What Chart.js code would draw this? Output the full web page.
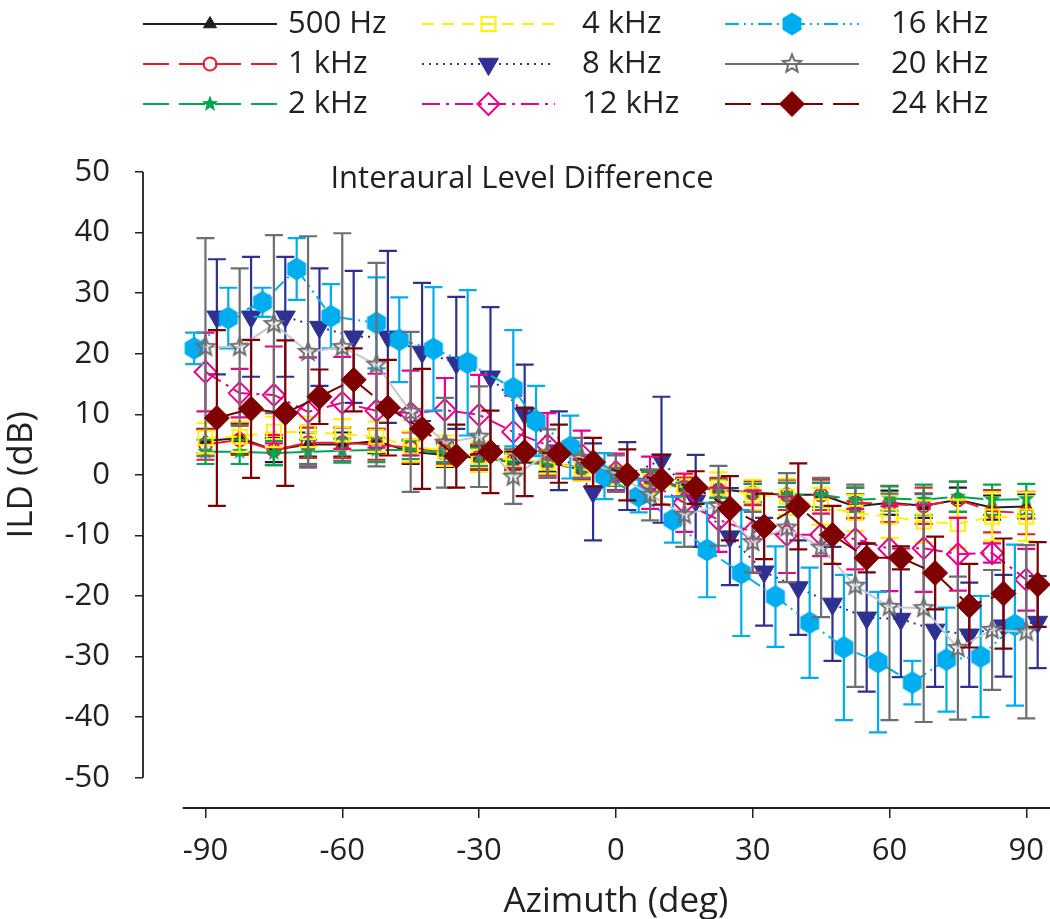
<!DOCTYPE html>
<html>
<head>
<meta charset="utf-8">
<title>Interaural Level Difference</title>
<script src="https://cdn.jsdelivr.net/npm/chart.js@4.4.1/dist/chart.umd.min.js"></script>
<style>
  body { margin: 0; background: #fff; }
  canvas { display: block; }
</style>
</head>
<body>
<canvas id="ildChart" width="1050" height="919"></canvas>
<script>
// ILD vs azimuth, one series per frequency band, mean +/- sd

// azimuths (deg) - some bands are drawn slightly offset so the error bars do not overlap
const azimuthBase = [-90, -82.5, -75, -67.5, -60, -52.5, -45, -37.5, -30, -22.5, -15, -7.5, 0, 7.5, 15, 22.5, 30, 37.5, 45, 52.5, 60, 67.5, 75, 82.5, 90];
const azimuthPlus = [-87.5, -80, -72.5, -65, -57.5, -50, -42.5, -35, -27.5, -20, -12.5, -5, 2.5, 10, 17.5, 25, 32.5, 40, 47.5, 55, 62.5, 70, 77.5, 85, 92.5];
const azimuth16k = [-92.5, -85, -77.5, -70, -62.5, -52.5, -47.5, -40, -32.5, -22.5, -17.5, -10, -2.5, 5, 12.5, 20, 27.5, 35, 42.5, 50, 57.5, 65, 72.5, 80, 87.5];

// mean ILD (dB)
const ild500 = [5.6, 6.1, 4.1, 5.0, 5.0, 5.6, 3.8, 3.3, 2.8, 2.3, 2.0, 1.0, -0.3, -0.8, -2.0, -2.3, -3.0, -3.3, -3.3, -5.2, -4.6, -5.1, -4.1, -5.4, -5.2];
const ild1k = [5.0, 5.8, 4.1, 5.3, 5.3, 5.0, 4.5, 3.8, 3.0, 2.3, 2.0, 1.2, -0.2, -0.8, -2.0, -2.5, -3.0, -3.3, -3.3, -4.6, -4.8, -5.1, -4.1, -6.0, -6.3];
const ild2k = [3.8, 3.8, 3.6, 3.8, 4.0, 4.1, 4.1, 3.6, 3.0, 2.0, 1.8, 1.0, -0.3, -1.0, -2.2, -2.3, -3.0, -3.3, -3.3, -4.1, -3.9, -4.1, -3.6, -4.1, -4.0];
const ild4k = [6.1, 6.3, 7.1, 7.1, 6.7, 6.3, 4.7, 4.0, 3.0, 2.5, 2.2, 1.0, -0.5, -1.9, -1.9, -2.1, -3.3, -3.6, -5.2, -6.3, -6.9, -7.7, -8.1, -6.9, -6.9];
const ild8k = [26.1, 26.1, 26.1, 24.4, 22.8, 22.8, 20.3, 18.5, 16.2, 10.1, 4.0, -2.8, -0.2, 2.5, -4.3, -10.2, -16.0, -18.6, -21.3, -23.6, -23.8, -25.6, -26.4, -24.9, -24.3];
const ild12k = [17.0, 13.5, 13.2, 10.4, 11.9, 10.6, 10.2, 10.7, 9.9, 7.1, 4.9, 3.3, 0.5, -1.3, -4.6, -7.4, -9.4, -9.9, -9.9, -10.6, -12.2, -12.1, -13.1, -12.9, -17.3];
const ild16k = [20.9, 25.9, 28.5, 34.0, 26.2, 25.1, 22.3, 20.8, 18.5, 14.3, 8.9, 4.6, -0.2, -3.5, -7.4, -12.4, -16.2, -20.1, -24.4, -28.5, -30.9, -34.3, -30.5, -30.0, -24.8];
const ild20k = [21.1, 21.1, 24.9, 20.3, 21.1, 18.2, 10.4, 5.3, 6.3, -0.3, 3.5, 2.8, 0.2, -3.3, -6.6, -5.1, -11.1, -8.7, -12.0, -18.3, -21.8, -22.0, -28.6, -25.6, -25.9];
const ild24k = [9.4, 10.9, 10.2, 12.9, 15.7, 11.1, 7.6, 3.1, 3.8, 3.8, 3.5, 2.1, 0.0, -0.8, -2.1, -5.5, -8.5, -5.2, -9.9, -13.7, -13.7, -16.2, -21.6, -19.6, -18.1];

// standard deviation (dB)
const err500 = [2, 2.5, 2, 2, 2, 2, 2, 2, 2, 1.5, 1.5, 1.5, 1.5, 1.5, 1.5, 1.5, 1.5, 2, 2, 2, 2, 2, 2, 2, 2];
const err1k = [2.5, 2.5, 2.5, 2.5, 2.5, 2.5, 2.5, 2, 2, 2, 2, 2, 1.5, 1.5, 1.5, 2, 2, 2.5, 2.5, 2.5, 3, 3, 3, 3.5, 3.5];
const err2k = [2, 2, 2, 2, 2, 2, 1.5, 1.5, 1.5, 1.5, 1.5, 1.5, 1.5, 1.5, 1.5, 1.5, 1.5, 2, 2, 2, 2, 2.5, 2.5, 2.5, 2.5];
const err4k = [2.5, 2.5, 2.5, 2.5, 2.5, 2.5, 2.5, 2.5, 2.5, 2, 2, 2, 2, 2, 2, 2.5, 2.5, 3, 3, 3, 3.5, 3.5, 4, 4, 4];
const err8k = [9.5, 9.9, 9.9, 9.7, 10.9, 14.2, 11.4, 10.9, 11.5, 8.1, 6.5, 8, 5.6, 10.4, 7.6, 8, 8.9, 7.8, 9.4, 12.2, 9.6, 9.4, 8.6, 8.4, 7.6];
const err12k = [6.5, 4, 8, 9, 7.6, 6.1, 7, 5.3, 6.6, 6, 5.3, 4, 3, 4.3, 4.8, 5.3, 6.8, 6.3, 3.5, 5, 7, 7.2, 6, 1.6, 5.1];
const err16k = [2.6, 5, 2.4, 5.1, 5.3, 7.5, 7, 10.2, 12, 9.6, 5.8, 5.2, 3.8, 2.7, 3.8, 7.8, 10.4, 8.3, 9.1, 12, 11.6, 3.6, 8.6, 10, 13.3];
const err20k = [18, 13, 14.7, 19.1, 18.8, 16.8, 13.2, 7.4, 8.3, 4.5, 4, 3.3, 3, 4.2, 5.3, 6.6, 5, 9, 11.5, 16.7, 18.7, 18.8, 11.8, 9.9, 14.3];
const err24k = [14.5, 11.4, 12, 4.5, 5.2, 7.9, 9.9, 5.2, 6.8, 7.3, 4.8, 4, 4.2, 4.1, 2.7, 5.3, 5.4, 7.1, 4.8, 2.4, 1.9, 6, 6.9, 9.1, 7];

// axis ticks
const xTicks = [-90, -60, -30, 0, 30, 60, 90];
const yTicks = [-50, -40, -30, -20, -10, 0, 10, 20, 30, 40, 50];

const FONT = '"Open Sans", "DejaVu Sans", sans-serif';
const INK = '#231f20';

// marker images that Chart.js has no built-in style for
function polygonMarker(size, points, fill, stroke, lw) {
    const c = document.createElement('canvas');
    c.width = c.height = size;
    const g = c.getContext('2d');
    g.beginPath();
    points.forEach((p, k) => k ? g.lineTo(size / 2 + p[0], size / 2 + p[1]) : g.moveTo(size / 2 + p[0], size / 2 + p[1]));
    g.closePath();
    if (fill) { g.fillStyle = fill; g.fill(); }
    if (stroke) { g.strokeStyle = stroke; g.lineWidth = lw; g.stroke(); }
    return c;
}
function starPoints(outer, inner) {
    const pts = [];
    for (let k = 0; k < 10; k++) {
        const r = k % 2 ? inner : outer;
        const a = -Math.PI / 2 + k * Math.PI / 5;
        pts.push([r * Math.cos(a), r * Math.sin(a)]);
    }
    return pts;
}
function hexPoints(r) {
    const pts = [];
    for (let k = 0; k < 6; k++) {
        const a = -Math.PI / 2 + k * Math.PI / 3;
        pts.push([r * Math.cos(a) * 0.95, r * Math.sin(a)]);
    }
    return pts;
}
const greenStar = polygonMarker(20, starPoints(8.5, 3.6), '#00a651', null, 0);
const grayStar = polygonMarker(24, starPoints(9.5, 4.2), null, '#6d6e71', 2);
const blueHex = polygonMarker(26, hexPoints(11.5), '#00aeef', null, 0);

const series = [
    { label: '500 Hz', x: azimuthBase, y: ild500, err: err500, color: INK, line: INK, dash: [], style: 'triangle', radius: 7.5, fill: true },
    { label: '1 kHz', x: azimuthBase, y: ild1k, err: err1k, color: '#ed1c24', line: '#ed1c24', dash: [26, 10], style: 'circle', radius: 6.5, fill: false },
    { label: '2 kHz', x: azimuthBase, y: ild2k, err: err2k, color: '#00a651', line: '#00a651', dash: [26, 10], style: greenStar, radius: 8, fill: true },
    { label: '4 kHz', x: azimuthBase, y: ild4k, err: err4k, color: '#fff200', line: '#fff200', dash: [12, 8], style: 'rect', radius: 10, fill: false },
    { label: '8 kHz', x: azimuthPlus, y: ild8k, err: err8k, color: '#2e3192', line: '#2e3192', dash: [2, 5], style: 'triangle', rotation: 180, radius: 11.5, fill: true },
    { label: '12 kHz', x: azimuthBase, y: ild12k, err: err12k, color: '#ec008c', line: '#ec008c', dash: [18, 6, 3, 6], style: 'rectRot', radius: 11, fill: false },
    { label: '16 kHz', x: azimuth16k, y: ild16k, err: err16k, color: '#00aeef', line: '#00aeef', dash: [14, 5, 2, 5, 2, 5], style: blueHex, radius: 11, fill: true },
    { label: '20 kHz', x: azimuthBase, y: ild20k, err: err20k, color: '#6d6e71', line: '#c7c8ca', legendLine: '#6d6e71', dash: [], style: grayStar, radius: 9, fill: false },
    { label: '24 kHz', x: azimuthPlus, y: ild24k, err: err24k, color: '#7f0000', line: '#7f0000', dash: [26, 10], style: 'rectRot', radius: 12.5, fill: true }
];

const datasets = series.map((s, i) => ({
    label: s.label,
    data: s.x.map((az, k) => ({ x: az, y: s.y[k] })),
    errors: s.err,
    errColor: s.color,
    showLine: true,
    tension: 0,
    borderColor: s.line,
    borderWidth: 2,
    borderDash: s.dash,
    backgroundColor: s.fill ? s.color : 'rgba(0,0,0,0)',
    pointStyle: s.style,
    pointRotation: s.rotation || 0,
    pointRadius: s.radius,
    pointBorderColor: s.color,
    pointBackgroundColor: s.fill ? s.color : 'rgba(0,0,0,0)',
    pointBorderWidth: s.fill ? 1 : 2,
    clip: false,
    order: series.length - i
}));

// error bars, drawn just under each series' own line and markers
const errorBars = {
    id: 'errorBars',
    beforeDatasetDraw(chart, args) {
        const ds = chart.data.datasets[args.index];
        if (!ds.errors) return;
        const ctx = chart.ctx, xs = chart.scales.x, ys = chart.scales.y;
        ctx.save();
        ctx.strokeStyle = ds.errColor;
        ctx.lineWidth = 2.2;
        ctx.setLineDash([]);
        ds.data.forEach((p, k) => {
            const px = xs.getPixelForValue(p.x);
            const top = ys.getPixelForValue(p.y + ds.errors[k]);
            const bot = ys.getPixelForValue(p.y - ds.errors[k]);
            ctx.beginPath();
            ctx.moveTo(px, top); ctx.lineTo(px, bot);
            ctx.moveTo(px - 9, top); ctx.lineTo(px + 9, top);
            ctx.moveTo(px - 9, bot); ctx.lineTo(px + 9, bot);
            ctx.stroke();
        });
        ctx.restore();
    }
};

function drawMarker(ctx, s, x, y) {
    ctx.save();
    ctx.fillStyle = s.fill ? s.color : 'rgba(0,0,0,0)';
    ctx.strokeStyle = s.color;
    ctx.lineWidth = s.fill ? 1 : 2;
    Chart.helpers.drawPoint(ctx, { pointStyle: s.style, rotation: s.rotation || 0, radius: s.radius, borderWidth: s.fill ? 1 : 2 }, x, y);
    ctx.restore();
}

const legendRows = [24, 64, 104];
const legendCols = [{ x0: 143, x1: 277, tx: 288 }, { x0: 422, x1: 555, tx: 582 }, { x0: 725, x1: 859, tx: 891 }];

// detached axis lines, x tick labels, axis titles, in-plot title and the 3x3 legend
const decorations = {
    id: 'decorations',
    afterDraw(chart) {
        const ctx = chart.ctx, xs = chart.scales.x, ys = chart.scales.y, area = chart.chartArea;
        ctx.save();
        ctx.strokeStyle = INK;
        ctx.lineWidth = 1.8;
        ctx.beginPath();
        ctx.moveTo(area.left, ys.getPixelForValue(50));
        ctx.lineTo(area.left, ys.getPixelForValue(-50));
        ctx.moveTo(xs.getPixelForValue(-95), area.bottom);
        ctx.lineTo(chart.width, area.bottom);
        ctx.stroke();

        ctx.fillStyle = INK;
        ctx.textAlign = 'center';
        ctx.textBaseline = 'middle';
        // x tick labels drawn here so the last one may overhang the plot edge
        ctx.font = '31px ' + FONT;
        xTicks.forEach(v => ctx.fillText(String(v), xs.getPixelForValue(v), area.bottom + 43));

        ctx.font = '35px ' + FONT;
        ctx.fillText('Azimuth (deg)', xs.getPixelForValue(0), 902);
        ctx.save();
        ctx.translate(22, ys.getPixelForValue(0));
        ctx.rotate(-Math.PI / 2);
        ctx.fillText('ILD (dB)', 0, 0);
        ctx.restore();

        ctx.font = '31px ' + FONT;
        ctx.fillText('Interaural Level Difference', 522, 179);

        series.forEach((s, i) => {
            const col = legendCols[Math.floor(i / 3)], y = legendRows[i % 3];
            ctx.strokeStyle = s.legendLine || s.line;
            ctx.lineWidth = 2;
            ctx.setLineDash(s.dash);
            ctx.beginPath();
            ctx.moveTo(col.x0, y); ctx.lineTo(col.x1, y);
            ctx.stroke();
            ctx.setLineDash([]);
            drawMarker(ctx, s, (col.x0 + col.x1) / 2, y);
            ctx.fillStyle = INK;
            ctx.textAlign = 'left';
            ctx.fillText(s.label, col.tx, y);
        });
        ctx.restore();
    }
};

new Chart(document.getElementById('ildChart'), {
    type: 'scatter',
    data: { datasets: datasets },
    options: {
        responsive: false,
        animation: false,
        events: [],
        layout: { autoPadding: false, padding: { top: 166, left: 0, right: 0, bottom: 0 } },
        plugins: { legend: { display: false }, tooltip: { enabled: false } },
        scales: {
            x: {
                type: 'linear',
                min: -103.7,
                max: 95.2,
                afterBuildTicks: scale => { scale.ticks = xTicks.map(v => ({ value: v })); },
                afterFit: scale => { scale.height = 111; },
                border: { display: false },
                grid: { drawOnChartArea: false, drawTicks: true, tickLength: 10, color: INK, lineWidth: 1.5 },
                ticks: { display: false }
            },
            y: {
                type: 'linear',
                min: -55,
                max: 51,
                afterBuildTicks: scale => { scale.ticks = yTicks.map(v => ({ value: v })); },
                afterFit: scale => { scale.width = 143; },
                border: { display: false },
                grid: { drawOnChartArea: false, drawTicks: true, tickLength: 8, color: INK, lineWidth: 1.5 },
                ticks: { color: INK, font: { family: FONT, size: 31 }, padding: 25 }
            }
        }
    },
    plugins: [errorBars, decorations]
});
</script>
</body>
</html>
